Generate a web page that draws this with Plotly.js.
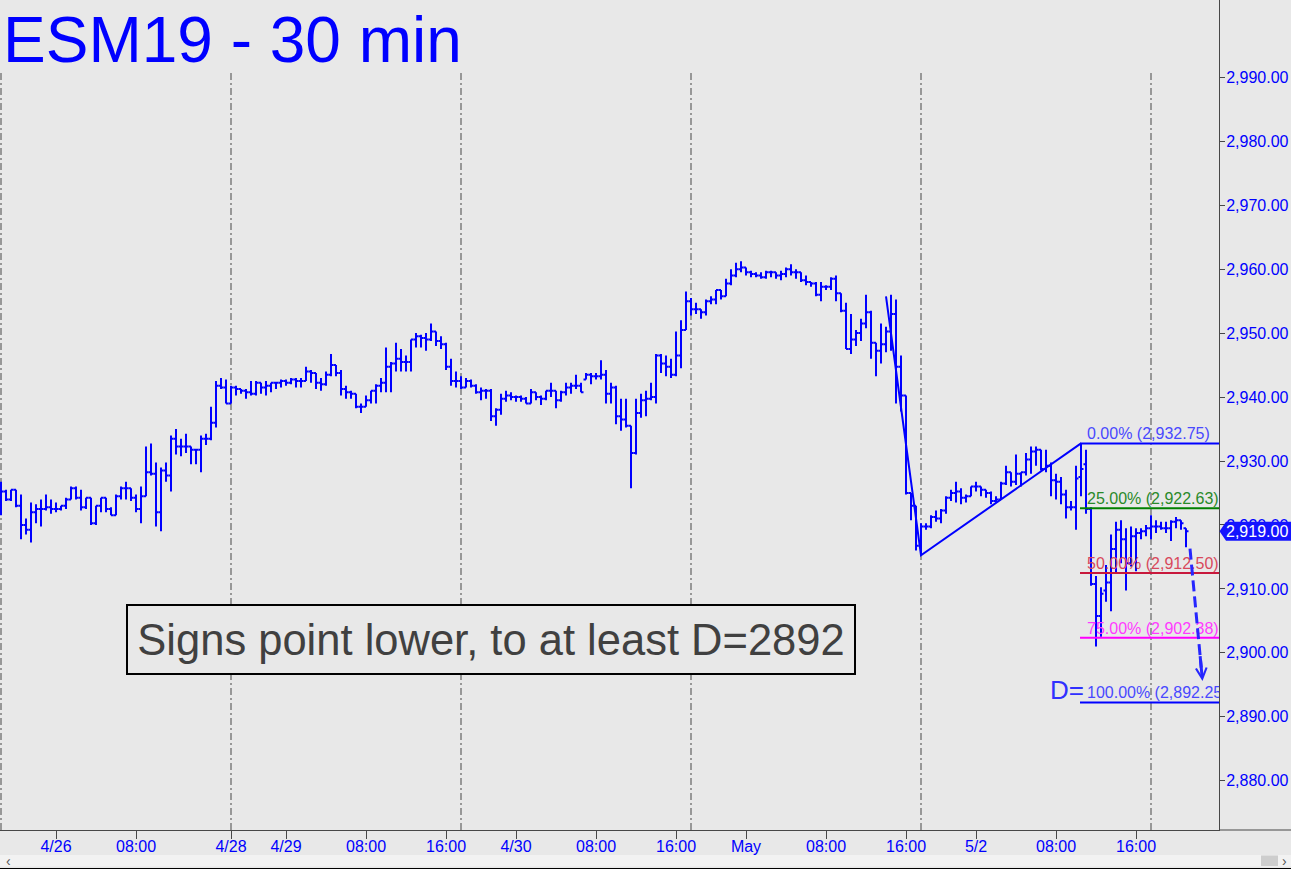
<!DOCTYPE html>
<html><head><meta charset="utf-8">
<script src="https://cdn.plot.ly/plotly-3.0.1.min.js"></script>
<style>html,body{margin:0;padding:0;background:#e8e8e8;overflow:hidden}#chart{width:1291px;height:871px}</style>
</head><body><div id="chart"></div>
<script>
// ---- OHLC data (30-min bars, bar index 0 = Thu 4/25 18:00 session start) ----
const openP = [2925.5,2925.25,2924.0,2925.5,2923.0,2920.0,2919.25,2922.0,2922.5,2922.5,2922.75,2922.5,2922.5,2923.0,2924.0,2925.75,2924.25,2922.75,2924.25,2920.25,
2923.0,2924.25,2922.5,2921.5,2924.5,2925.75,2925.75,2924.25,2922.5,2924.5,2928.25,2928.0,2922.0,2928.5,2927.75,2933.5,2932.25,2932.25,2932.25,2931.75,
2931.75,2933.5,2933.5,2936.0,2941.75,2941.5,2939.0,2941.5,2941.25,2941.0,2940.75,2940.5,2942.25,2941.5,2941.75,2942.25,2942.25,2942.5,2942.25,2942.75,
2942.5,2942.5,2944.0,2943.75,2942.25,2942.0,2943.5,2945.0,2943.75,2941.25,2940.75,2940.5,2938.5,2938.5,2939.5,2941.0,2941.75,2942.25,2944.75,2945.25,
2946.0,2945.5,2945.5,2949.0,2949.5,2949.25,2949.0,2950.25,2948.75,2948.25,2944.75,2942.5,2942.5,2941.5,2942.5,2941.75,2940.75,2941.0,2941.0,2937.0,
2938.0,2939.75,2940.25,2940.0,2940.0,2939.75,2939.0,2940.75,2940.0,2939.75,2941.0,2941.0,2939.5,2940.75,2941.5,2941.75,2941.75,2942.75,2943.5,2943.25,
2943.25,2943.5,2940.5,2941.5,2937.0,2936.5,2935.5,2931.25,2937.5,2939.5,2939.75,2940.0,2946.5,2945.25,2944.75,2943.5,2946.5,2950.5,2955.0,2953.75,
2953.75,2953.25,2955.0,2955.25,2956.75,2955.75,2957.75,2959.0,2960.0,2960.25,2959.5,2959.25,2959.0,2958.75,2959.5,2959.5,2959.0,2959.25,2960.0,2959.5,
2959.5,2958.25,2958.0,2957.75,2956.0,2957.25,2957.25,2958.5,2956.25,2953.5,2947.5,2949.0,2950.0,2951.5,2953.25,2948.5,2947.25,2948.25,2950.25,2953.0,
2944.75,2940.25,2925.0,2923.0,2916.75,2919.75,2919.75,2921.25,2921.0,2922.25,2924.25,2925.0,2925.25,2924.25,2924.5,2926.0,2926.0,2925.5,2925.0,2923.75,
2924.0,2926.5,2928.25,2926.75,2928.0,2928.25,2930.25,2931.5,2931.75,2928.75,2929.25,2927.0,2926.75,2924.75,2922.75,2922.75,2927.5,2929.5,2922.5,2910.75,
2905.75,2909.75,2911.0,2916.25,2919.25,2917.75,2914.0,2918.25,2918.75,2919.0,2919.5,2919.75,2919.75,2919.5,2919.5,2920.5,2920.75,2919.5];
const highP = [2926.75,2925.5,2925.5,2925.5,2924.75,2921.0,2923.5,2923.25,2924.0,2924.75,2924.0,2923.5,2923.0,2924.25,2926.0,2926.0,2925.5,2924.25,2924.25,2923.0,
2924.25,2924.25,2922.75,2924.75,2926.0,2926.75,2925.75,2924.75,2926.0,2932.25,2932.75,2929.75,2929.0,2929.75,2934.0,2935.0,2933.5,2934.25,2932.25,2931.75,
2934.0,2934.25,2938.5,2942.5,2943.0,2942.75,2941.75,2941.75,2941.25,2941.25,2942.5,2942.5,2942.25,2942.5,2942.25,2942.25,2942.75,2942.75,2943.0,2943.0,
2943.0,2944.75,2944.25,2943.75,2943.0,2944.0,2946.75,2945.0,2944.25,2941.75,2941.0,2940.5,2939.0,2940.25,2941.0,2942.0,2943.0,2947.75,2945.5,2948.5,
2947.5,2946.5,2949.0,2950.0,2949.75,2950.0,2951.5,2950.25,2949.5,2948.5,2946.0,2944.0,2943.25,2943.0,2942.75,2942.0,2941.5,2941.25,2941.25,2938.25,
2940.5,2941.0,2940.75,2940.25,2940.25,2940.0,2941.25,2940.75,2940.25,2941.0,2942.25,2941.0,2941.0,2942.25,2942.25,2943.5,2942.25,2943.75,2943.75,2943.75,
2945.75,2944.25,2942.25,2941.75,2939.75,2939.75,2935.5,2939.75,2940.5,2941.0,2942.25,2946.75,2946.75,2946.5,2946.0,2950.25,2952.0,2956.5,2955.5,2954.75,
2953.75,2955.25,2955.75,2956.75,2956.75,2958.5,2960.0,2961.0,2961.25,2960.25,2959.75,2959.5,2959.5,2959.75,2959.75,2959.5,2959.75,2960.25,2960.75,2960.0,
2959.5,2959.0,2958.0,2958.0,2958.0,2957.5,2958.75,2959.0,2956.25,2954.75,2953.0,2950.5,2952.25,2956.0,2953.5,2948.5,2951.5,2951.0,2956.0,2955.25,
2946.5,2940.25,2925.0,2923.0,2920.25,2920.25,2921.5,2922.25,2922.5,2924.5,2925.5,2926.75,2925.75,2924.75,2926.0,2926.75,2926.0,2925.5,2925.25,2924.5,
2926.75,2929.25,2928.25,2931.0,2928.25,2931.25,2932.25,2932.25,2931.75,2931.75,2929.75,2928.0,2927.5,2925.5,2923.75,2929.25,2932.75,2931.75,2922.75,2912.0,
2910.25,2913.75,2918.5,2920.5,2920.75,2919.5,2919.75,2919.5,2919.5,2920.0,2921.5,2920.75,2920.5,2920.5,2920.75,2921.25,2920.75,2919.5];
const lowP = [2921.5,2923.75,2923.75,2922.75,2917.75,2918.5,2917.25,2920.25,2919.75,2922.25,2921.75,2922.0,2922.25,2922.5,2924.0,2924.0,2922.25,2922.5,2920.0,2920.0,
2922.0,2922.0,2921.5,2921.5,2924.0,2924.0,2923.75,2922.0,2920.25,2924.5,2927.75,2919.75,2919.0,2926.75,2925.25,2931.0,2930.75,2931.25,2929.5,2929.5,
2928.25,2932.5,2933.25,2935.25,2941.25,2939.0,2939.0,2940.25,2940.5,2939.75,2940.25,2940.25,2940.5,2940.25,2940.75,2941.25,2941.5,2941.75,2942.0,2941.5,
2941.5,2942.5,2942.25,2941.25,2941.0,2941.75,2943.25,2943.25,2940.25,2939.75,2939.75,2938.25,2937.5,2938.5,2939.0,2939.0,2940.75,2940.75,2940.75,2944.0,
2944.0,2944.0,2944.0,2947.75,2947.75,2947.25,2948.75,2948.0,2947.5,2944.25,2941.75,2941.5,2941.25,2941.5,2941.5,2940.5,2939.5,2939.75,2936.25,2935.5,
2937.25,2939.25,2939.5,2939.25,2939.25,2939.0,2939.0,2939.5,2938.75,2939.5,2940.0,2938.25,2939.25,2940.25,2940.5,2941.25,2940.75,2942.75,2942.0,2942.75,
2942.75,2939.0,2939.0,2935.75,2934.75,2935.25,2925.75,2931.0,2936.75,2937.0,2939.5,2939.0,2943.75,2943.25,2943.0,2943.25,2944.5,2950.5,2952.75,2953.0,
2952.25,2952.75,2954.5,2954.5,2955.25,2955.75,2957.5,2958.75,2959.5,2959.0,2958.75,2958.75,2958.5,2958.5,2958.75,2958.5,2958.25,2958.75,2959.0,2958.5,
2958.0,2957.5,2957.25,2955.75,2955.0,2956.75,2956.75,2955.0,2953.25,2947.5,2946.75,2948.0,2948.75,2950.75,2946.0,2943.25,2945.25,2947.0,2947.25,2939.0,
2937.75,2924.75,2920.75,2916.0,2915.25,2919.25,2919.5,2920.5,2920.25,2921.75,2923.75,2923.5,2923.25,2923.5,2924.5,2925.25,2924.5,2924.25,2923.25,2923.5,
2924.0,2926.25,2926.0,2926.25,2926.0,2927.75,2928.0,2929.25,2928.5,2928.25,2924.5,2924.0,2923.25,2921.0,2922.25,2919.25,2924.5,2921.75,2910.5,2901.0,
2902.5,2908.0,2906.5,2912.5,2914.0,2909.75,2913.5,2912.75,2917.75,2918.25,2917.75,2918.75,2919.25,2918.75,2917.5,2919.5,2919.25,2916.5];
const closeP = [2925.25,2924.0,2925.5,2923.0,2920.0,2919.25,2922.0,2922.5,2922.5,2922.75,2922.5,2922.5,2923.0,2924.0,2925.75,2924.25,2922.75,2924.25,2920.25,2923.0,
2924.25,2922.5,2921.5,2924.5,2925.75,2925.75,2924.25,2922.5,2924.5,2928.25,2928.0,2922.0,2928.5,2927.75,2933.5,2932.25,2932.25,2932.25,2931.75,2931.75,
2933.5,2933.5,2936.0,2941.75,2941.5,2939.0,2941.5,2941.25,2941.0,2940.75,2940.5,2942.25,2941.5,2941.75,2942.25,2942.25,2942.5,2942.25,2942.75,2942.5,
2942.5,2944.0,2943.75,2942.25,2942.0,2943.5,2945.0,2943.75,2941.25,2940.75,2940.5,2938.5,2938.5,2939.5,2941.0,2941.75,2942.25,2944.75,2945.25,2946.0,
2945.5,2945.5,2949.0,2949.5,2949.25,2949.0,2950.25,2948.75,2948.25,2944.75,2942.5,2942.5,2941.5,2942.5,2941.75,2940.75,2941.0,2941.0,2937.0,2938.0,
2939.75,2940.25,2940.0,2940.0,2939.75,2939.0,2940.75,2940.0,2939.75,2941.0,2941.0,2939.5,2940.75,2941.5,2941.75,2941.75,2940.75,2943.5,2943.25,2943.25,
2943.5,2940.5,2941.5,2937.0,2936.5,2935.5,2931.25,2937.5,2939.5,2939.75,2940.0,2946.5,2945.25,2944.75,2943.5,2946.5,2950.5,2955.0,2953.75,2953.75,
2953.25,2955.0,2955.25,2956.75,2955.75,2957.75,2959.0,2960.0,2960.25,2959.5,2959.25,2959.0,2958.75,2959.5,2959.5,2959.0,2959.25,2960.0,2959.5,2959.5,
2958.25,2958.0,2957.75,2956.0,2957.25,2957.25,2958.5,2956.25,2953.5,2947.5,2949.0,2950.0,2951.5,2953.25,2948.5,2947.25,2948.25,2950.25,2953.0,2944.75,
2940.25,2925.0,2923.0,2916.75,2919.75,2919.75,2921.25,2921.0,2922.25,2924.25,2925.0,2925.25,2924.25,2924.5,2926.0,2926.0,2925.5,2925.0,2923.75,2924.0,
2926.5,2928.25,2926.75,2928.0,2928.25,2930.25,2931.5,2931.75,2928.75,2929.25,2927.0,2926.75,2924.75,2922.75,2922.75,2927.25,2928.75,2922.5,2910.75,2905.75,
2909.25,2911.0,2916.25,2919.25,2917.75,2914.0,2918.25,2918.75,2919.0,2919.5,2919.75,2919.75,2919.5,2919.5,2920.5,2920.75,2920.25,2919.0];

// ---- axis ticks ----
const xTickPos  = [11,27,46,57,73,89,103,119,135,149,165,181,195,211,227];
const xTickText = ['4/26','08:00','4/28','4/29','08:00','16:00','4/30','08:00','16:00','May','08:00','16:00','5/2','08:00','16:00'];
const sessionStarts = [0,46,92,138,184,230];
const yTicks = [2880,2890,2900,2910,2920,2930,2940,2950,2960,2970,2980,2990];

// ---- ABCD pattern & Fibonacci projection ----
const abcdX = [177,184,216];
const abcdY = [2955.75,2915.25,2932.75];
const fibLevels = [2932.75,2922.63,2912.50,2902.38,2892.25];
const fibPct    = ['0.00%','25.00%','50.00%','75.00%','100.00%'];
const fibLineColors = ['#0000ff','#008000','#c8183c','#ff00ff','#0000ff'];
const fibTextColors = ['#4848ff','#2a8a2a','#d8485c','#ff3cff','#4848ff'];
const fibStartX = 215.8, fibLabelX = 217.2;
const projFrom = [237.8, 2916.3];
const projTo   = [240.3, 2895.6];
const lastPrice = 2919.00;
const noteText = 'Signs point lower, to at least D=2892';

// ---- geometry ----
const W = 1291, H = 871, mR = 72, mB = 41;
const plotW = W - mR, plotH = H - mB;
const xRange = [-0.2, 243.6];
const yRange = [2872.3, 3002.09];
const BG = '#e8e8e8', BLUE = '#0000ff', AX = '#474747';
const FONT = 'Arial, "Liberation Sans", sans-serif';
const px = v => v / plotW;            // pixel x -> paper x
const py = v => (plotH - v) / plotH;  // pixel y -> paper y
const yp = p => (p - yRange[0]) / (yRange[1] - yRange[0]);
const fmt = v => v.toLocaleString('en-US', {minimumFractionDigits: 2, maximumFractionDigits: 2});

const idx = closeP.map((_, i) => i);

const traces = [];
traces.push({
  type: 'ohlc', x: idx, open: openP, high: highP, low: lowP, close: closeP,
  increasing: {line: {color: BLUE, width: 2}},
  decreasing: {line: {color: BLUE, width: 2}},
  tickwidth: 0.5, hoverinfo: 'skip', showlegend: false
});
traces.push({type: 'scatter', mode: 'lines', x: abcdX, y: abcdY,
  line: {color: BLUE, width: 2}, hoverinfo: 'skip', showlegend: false});
fibLevels.forEach((lv, i) => {
  traces.push({type: 'scatter', mode: 'lines', x: [fibStartX, xRange[1] + 2], y: [lv, lv],
    line: {color: fibLineColors[i], width: 2}, hoverinfo: 'skip', showlegend: false});
});
traces.push({type: 'scatter', mode: 'text',
  x: fibLevels.map(() => fibLabelX), y: fibLevels,
  text: fibLevels.map((lv, i) => fibPct[i] + ' (' + fmt(lv) + ')'),
  textposition: 'top right', cliponaxis: true,
  textfont: {family: FONT, size: 16, color: fibTextColors},
  hoverinfo: 'skip', showlegend: false});

const shapes = [];
sessionStarts.forEach(s => shapes.push({type: 'line', xref: 'x', yref: 'paper',
  x0: s, x1: s, y0: 0, y1: py(70), layer: 'below',
  line: {color: AX, width: 1, dash: '7px,3px,2px,3px'}}));
// projection shaft (dashed)
const t = 0.9;
shapes.push({type: 'line', xref: 'x', yref: 'y',
  x0: projFrom[0], y0: projFrom[1],
  x1: projFrom[0] + t * (projTo[0] - projFrom[0]), y1: projFrom[1] + t * (projTo[1] - projFrom[1]),
  line: {color: '#2626ff', width: 3, dash: '11px,5px'}});
// bottom axis line across full width
shapes.push({type: 'line', xref: 'paper', yref: 'paper', x0: 1, x1: px(W), y0: 0, y1: 0,
  line: {color: AX, width: 1}});
// scrollbar strip
shapes.push({type: 'rect', xref: 'paper', yref: 'paper', x0: 0, x1: px(W), y0: py(855), y1: py(866.5),
  fillcolor: '#f2f2f2', line: {width: 0}});
shapes.push({type: 'rect', xref: 'paper', yref: 'paper', x0: px(1261), x1: px(1278), y0: py(855.5), y1: py(866),
  fillcolor: '#cdcdcd', line: {width: 0}});
shapes.push({type: 'rect', xref: 'paper', yref: 'paper', x0: 0, x1: px(W), y0: py(871), y1: py(869),
  fillcolor: '#ffffff', line: {width: 0}});
shapes.push({type: 'line', xref: 'paper', yref: 'paper', x0: 0, x1: px(W), y0: py(868.5), y1: py(868.5),
  line: {color: '#000', width: 1}});
// last-price marker
const lpY = yp(lastPrice), hh = 9.5 / plotH;
shapes.push({type: 'path', xref: 'paper', yref: 'paper', layer: 'above',
  path: `M ${px(1219.5)},${lpY} L ${px(1226)},${lpY + hh} L ${px(W)},${lpY + hh} L ${px(W)},${lpY - hh} L ${px(1226)},${lpY - hh} Z`,
  fillcolor: '#1414ff', line: {width: 0}});

const annotations = [];
annotations.push({xref: 'x', yref: 'y', x: fibLabelX - 0.2, y: fibLevels[4], xanchor: 'right', yanchor: 'middle',
  yshift: 12, text: 'D=', showarrow: false, font: {family: FONT, size: 26, color: '#3030ff'}});
annotations.push({xref: 'x', yref: 'y', axref: 'x', ayref: 'y',
  x: projTo[0], y: projTo[1],
  ax: projFrom[0] + 0.8 * (projTo[0] - projFrom[0]), ay: projFrom[1] + 0.8 * (projTo[1] - projFrom[1]),
  text: '', showarrow: true, arrowhead: 5, arrowsize: 0.7, arrowwidth: 3, arrowcolor: '#2626ff'});
annotations.push({xref: 'paper', yref: 'paper', x: px(491), y: py(639.5), xanchor: 'center', yanchor: 'middle',
  text: noteText, showarrow: false, font: {family: FONT, size: 43.5, color: '#404040'},
  width: 726, height: 67, bordercolor: '#000', borderwidth: 2, borderpad: 0, bgcolor: BG});
annotations.push({xref: 'paper', yref: 'paper', x: px(1224), y: lpY, xanchor: 'left', yanchor: 'middle',
  text: fmt(lastPrice), showarrow: false, font: {family: FONT, size: 16, color: '#ffffff'}});
annotations.push({xref: 'paper', yref: 'paper', x: px(4), y: py(861), xanchor: 'left', yanchor: 'middle',
  text: '‹', showarrow: false, font: {family: FONT, size: 14, color: '#555'}});
annotations.push({xref: 'paper', yref: 'paper', x: px(1289), y: py(861), xanchor: 'right', yanchor: 'middle',
  text: '›', showarrow: false, font: {family: FONT, size: 14, color: '#555'}});

const layout = {
  width: W, height: H, autosize: false,
  margin: {l: 0, r: mR, t: 0, b: mB, pad: 0},
  paper_bgcolor: BG, plot_bgcolor: BG,
  showlegend: false,
  title: {text: 'ESM19 - 30 min', x: 3 / W, xanchor: 'left', xref: 'container',
          y: 1 - 40 / H, yanchor: 'middle', yref: 'container',
          font: {family: FONT, size: 64, color: BLUE}},
  xaxis: {range: xRange, tickmode: 'array', tickvals: xTickPos, ticktext: xTickText,
          ticks: 'outside', ticklen: 8, tickcolor: AX, showline: true, linecolor: AX, linewidth: 1,
          ticklabelstandoff: -6,
          showgrid: false, zeroline: false, fixedrange: true, rangeslider: {visible: false},
          tickfont: {family: FONT, size: 16, color: BLUE}},
  yaxis: {side: 'right', range: yRange, tickmode: 'array', tickvals: yTicks, tickformat: ',.2f',
          ticks: 'outside', ticklen: 5, tickcolor: AX, showline: true, linecolor: AX, linewidth: 1,
          ticklabelstandoff: -2,
          showgrid: false, zeroline: false, fixedrange: true,
          tickfont: {family: FONT, size: 16, color: BLUE}},
  shapes: shapes, annotations: annotations
};
Plotly.newPlot('chart', traces, layout, {staticPlot: true, displayModeBar: false});
</script></body></html>
